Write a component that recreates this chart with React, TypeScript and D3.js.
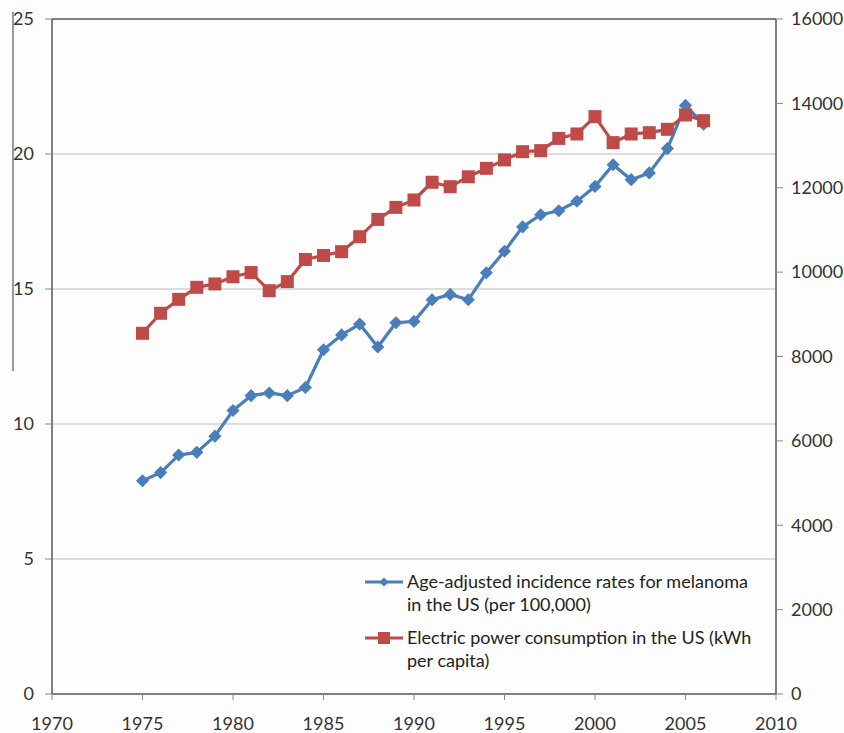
import * as d3 from "d3";

const years = d3.range(1975, 2007);
const melanoma = [
  7.9, 8.2, 8.85, 8.95, 9.55, 10.5, 11.05, 11.15, 11.05, 11.35, 12.75, 13.3, 13.7, 12.85, 13.75, 13.8,
  14.6, 14.8, 14.6, 15.6, 16.4, 17.3, 17.75, 17.9, 18.25, 18.8, 19.6, 19.05, 19.3, 20.2, 21.8, 21.1,
];
const electric = [
  8550, 9025, 9355, 9640, 9720, 9890, 9990, 9560, 9775, 10300, 10395, 10485, 10840, 11250, 11535, 11710,
  12130, 12025, 12260, 12460, 12660, 12855, 12880, 13170, 13275, 13685, 13070, 13275, 13305, 13385, 13725, 13590,
];
const xTicks = [1970, 1975, 1980, 1985, 1990, 1995, 2000, 2005, 2010];
const leftTicks = [0, 5, 10, 15, 20, 25];
const rightTicks = [0, 2000, 4000, 6000, 8000, 10000, 12000, 14000, 16000];
const legendLabels = [
  ["Age-adjusted incidence rates for melanoma", "in the US (per 100,000)"],
  ["Electric power consumption in the US (kWh", "per capita)"],
];

const BLUE = "#4a7ebb";
const RED = "#be4b48";
const FONT = "Lato, 'Open Sans', sans-serif";

export default function App() {
  const W = 844;
  const H = 733;
  const m = { left: 52, right: 776, top: 19, bottom: 694 };

  const x = d3.scaleLinear().domain([1970, 2010]).range([m.left, m.right]);
  const yL = d3.scaleLinear().domain([0, 25]).range([m.bottom, m.top]);
  const yR = d3.scaleLinear().domain([0, 16000]).range([m.bottom, m.top]);

  const blueLine = d3.line<number>().x((_, i) => x(years[i])).y((d) => yL(d))(melanoma) || "";
  const redLine = d3.line<number>().x((_, i) => x(years[i])).y((d) => yR(d))(electric) || "";

  const diamond = d3.symbol().type(d3.symbolDiamond2).size(110)() || "";

  return (
    <svg width={W} height={H} style={{ position: "absolute", left: 0, top: 0, background: "#fdfdfd" }} fontFamily={FONT}>
      {/* stray edge line from the original crop */}
      <line x1={13} x2={13} y1={12} y2={371} stroke="#777" strokeWidth={1.5} />

      {/* gridlines */}
      {leftTicks.filter((t) => t > 0 && t < 25).map((t) => (
        <line key={t} x1={m.left} x2={m.right} y1={yL(t)} y2={yL(t)} stroke="#bdbdbd" strokeWidth={1.2} />
      ))}

      {/* plot frame */}
      <line x1={m.left} x2={m.right} y1={m.top} y2={m.top} stroke="#555" strokeWidth={1.3} />
      <line x1={m.left} x2={m.left} y1={m.top} y2={m.bottom} stroke="#555" strokeWidth={1.5} />
      <line x1={m.right} x2={m.right} y1={m.top} y2={m.bottom} stroke="#555" strokeWidth={1.5} />
      <line x1={m.left} x2={m.right} y1={m.bottom} y2={m.bottom} stroke="#555" strokeWidth={1.5} />

      {/* left axis */}
      {leftTicks.map((t) => (
        <g key={t}>
          <line x1={m.left - 7} x2={m.left} y1={yL(t)} y2={yL(t)} stroke="#888" />
          <text x={34} y={yL(t)} dy="0.35em" textAnchor="end" fontSize={18} fill="#333">{t}</text>
        </g>
      ))}

      {/* right axis */}
      {rightTicks.map((t) => (
        <g key={t}>
          <line x1={m.right} x2={m.right + 7} y1={yR(t)} y2={yR(t)} stroke="#888" />
          <text x={791} y={yR(t)} dy="0.35em" textAnchor="start" fontSize={18} fill="#333">{t}</text>
        </g>
      ))}

      {/* bottom axis */}
      {xTicks.map((t) => (
        <g key={t}>
          <line x1={x(t)} x2={x(t)} y1={m.bottom} y2={m.bottom + 6} stroke="#888" />
          <text x={x(t)} y={724} dy="0.35em" textAnchor="middle" fontSize={18} fill="#333">{t}</text>
        </g>
      ))}

      {/* series */}
      <path d={blueLine} fill="none" stroke={BLUE} strokeWidth={3.2} strokeLinejoin="round" />
      {melanoma.map((v, i) => (
        <path key={i} d={diamond} transform={`translate(${x(years[i])},${yL(v)})`} fill={BLUE} />
      ))}
      <path d={redLine} fill="none" stroke={RED} strokeWidth={3.2} strokeLinejoin="round" />
      {electric.map((v, i) => (
        <rect key={i} x={x(years[i]) - 6.5} y={yR(v) - 6.5} width={13} height={13} fill={RED} />
      ))}

      {/* legend */}
      <g>
        <line x1={365} x2={403} y1={582} y2={582} stroke={BLUE} strokeWidth={3} />
        <path d={diamond} transform="translate(384,582) scale(0.7)" fill={BLUE} />
        {legendLabels[0].map((s, i) => (
          <text key={i} x={407} y={582 + i * 23} dy="0.35em" fontSize={18} fill="#222">{s}</text>
        ))}
        <line x1={365} x2={403} y1={638} y2={638} stroke={RED} strokeWidth={3} />
        <rect x={378} y={632} width={12} height={12} fill={RED} />
        {legendLabels[1].map((s, i) => (
          <text key={i} x={407} y={638 + i * 23} dy="0.35em" fontSize={18} fill="#222">{s}</text>
        ))}
      </g>
    </svg>
  );
}
